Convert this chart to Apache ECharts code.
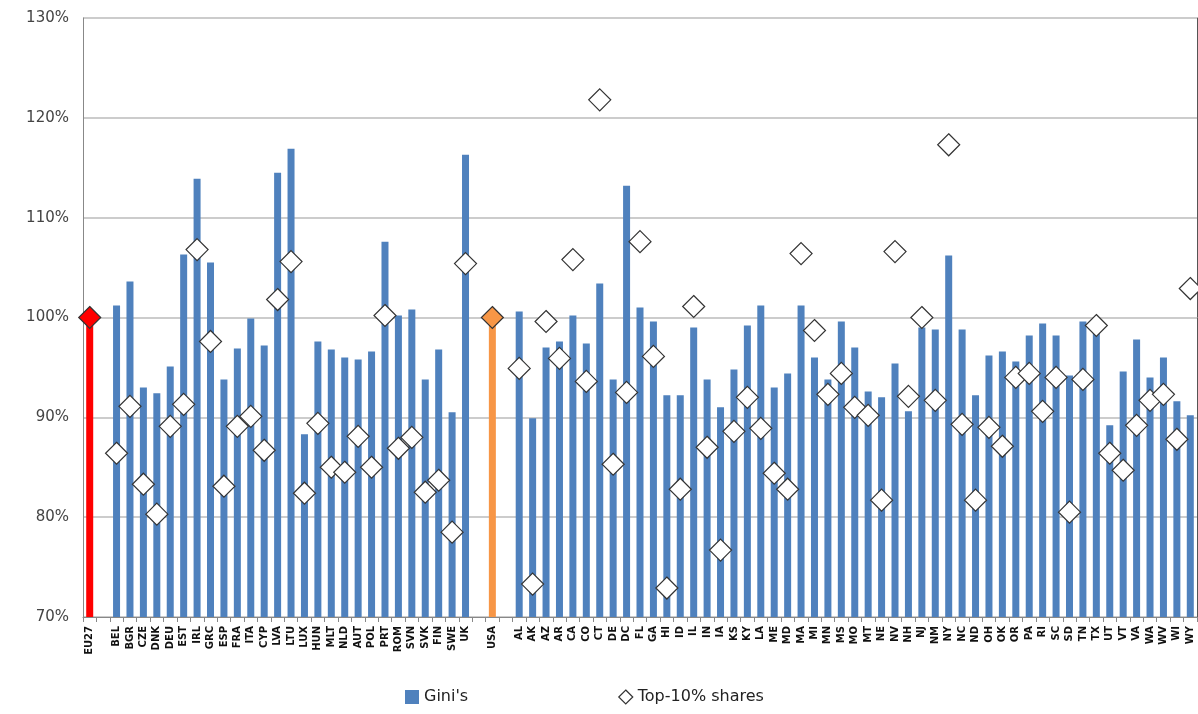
<!DOCTYPE html>
<html>
<head>
<meta charset="utf-8">
<script src="https://cdn.jsdelivr.net/npm/echarts@6/dist/echarts.min.js"></script>
<style>
  html, body { margin: 0; padding: 0; background: #fff; }
  #chart { width: 1198px; height: 714px; }
</style>
</head>
<body>
<div id="chart"></div>
<script>
// categories (blank slots are gaps between groups)
const categories = ['EU27', '',
  'BEL', 'BGR', 'CZE', 'DNK', 'DEU', 'EST', 'IRL', 'GRC', 'ESP', 'FRA', 'ITA', 'CYP', 'LVA', 'LTU',
  'LUX', 'HUN', 'MLT', 'NLD', 'AUT', 'POL', 'PRT', 'ROM', 'SVN', 'SVK', 'FIN', 'SWE', 'UK', '',
  'USA', '',
  'AL', 'AK', 'AZ', 'AR', 'CA', 'CO', 'CT', 'DE', 'DC', 'FL', 'GA', 'HI', 'ID', 'IL', 'IN', 'IA', 'KS',
  'KY', 'LA', 'ME', 'MD', 'MA', 'MI', 'MN', 'MS', 'MO', 'MT', 'NE', 'NV', 'NH', 'NJ', 'NM', 'NY', 'NC',
  'ND', 'OH', 'OK', 'OR', 'PA', 'RI', 'SC', 'SD', 'TN', 'TX', 'UT', 'VT', 'VA', 'WA', 'WV', 'WI', 'WY']

// Gini's (index, % of reference)
const gini = [100, null,
  101.2, 103.6, 93.0, 92.4, 95.1, 106.3, 113.9, 105.5, 93.8, 96.9, 99.9, 97.2, 114.5, 116.9,
  88.3, 97.6, 96.8, 96.0, 95.8, 96.6, 107.6, 100.2, 100.8, 93.8, 96.8, 90.5, 116.3, null,
  100, null,
  100.6, 89.9, 97.0, 97.6, 100.2, 97.4, 103.4, 93.8, 113.2, 101.0, 99.6, 92.2, 92.2, 99.0, 93.8, 91.0, 94.8,
  99.2, 101.2, 93.0, 94.4, 101.2, 96.0, 93.8, 99.6, 97.0, 92.6, 92.0, 95.4, 90.6, 99.0, 98.8, 106.2, 98.8,
  92.2, 96.2, 96.6, 95.6, 98.2, 99.4, 98.2, 94.2, 99.6, 99.1, 89.2, 94.6, 97.8, 94.0, 96.0, 91.6, 90.2]

// Top-10% shares
const top10 = [100, null,
  86.4, 91.1, 83.3, 80.3, 89.1, 91.3, 106.8, 97.6, 83.1, 89.1, 90.1, 86.7, 101.8, 105.6,
  82.4, 89.4, 85.0, 84.5, 88.1, 85.0, 100.2, 86.9, 88.0, 82.5, 83.7, 78.5, 105.4, null,
  100, null,
  94.9, 73.3, 99.6, 95.9, 105.8, 93.6, 121.8, 85.3, 92.5, 107.6, 96.1, 72.9, 82.8, 101.1, 87.0, 76.7, 88.6,
  92.0, 88.9, 84.4, 82.8, 106.4, 98.7, 92.3, 94.4, 91.0, 90.2, 81.7, 106.6, 92.1, 100.0, 91.7, 117.3, 89.3,
  81.7, 89.0, 87.1, 94.0, 94.4, 90.6, 94.0, 80.5, 93.8, 99.2, 86.4, 84.7, 89.2, 91.7, 92.3, 87.8, 102.9]

// 特殊颜色: EU27 红, USA 橙
const special = { EU27: '#ff0000', USA: '#f79646' }

const myChart = echarts.init(document.querySelector('#chart'))
const option = {
  animation: false,
  textStyle: { fontFamily: 'DejaVu Sans' },
  grid: { left: 83, right: 1, top: 18, bottom: 97 },
  legend: {
    bottom: 4,
    left: 400,
    itemGap: 150,
    itemWidth: 14,
    itemHeight: 14,
    textStyle: { fontSize: 16, color: '#222' },
    data: [
      { name: "Gini's", icon: 'rect', itemStyle: { color: '#4f81bd' } },
      { name: 'Top-10% shares', icon: 'diamond', itemStyle: { color: '#fff', borderColor: '#333', borderWidth: 1.2 } }
    ]
  },
  xAxis: {
    type: 'category',
    data: categories,
    axisLine: { lineStyle: { color: '#888' } },
    axisTick: { show: true, length: 5, interval: 0, lineStyle: { color: '#888' } },
    axisLabel: { interval: 0, rotate: 90, fontSize: 10, fontWeight: 'bold', color: '#111', margin: 9 }
  },
  yAxis: [
    {
      type: 'value',
      min: 70,
      max: 130,
      interval: 10,
      axisLine: { show: true, lineStyle: { color: '#888' } },
      axisTick: { show: false },
      splitLine: { lineStyle: { color: '#bbb', width: 1.5 } },
      axisLabel: { formatter: '{value}%', fontSize: 15, color: '#444', margin: 14 }
    },
    {
      // 右侧边框线
      type: 'value',
      position: 'right',
      min: 70,
      max: 130,
      axisLine: { show: true, lineStyle: { color: '#555' } },
      axisTick: { show: false },
      axisLabel: { show: false },
      splitLine: { show: false }
    }
  ],
  series: [
    {
      name: "Gini's",
      type: 'bar',
      barWidth: 7,
      itemStyle: { color: '#4f81bd' },
      data: gini.map((v, i) => special[categories[i]]
        ? { value: v, itemStyle: { color: special[categories[i]] } }
        : v)
    },
    {
      name: 'Top-10% shares',
      type: 'scatter',
      symbol: 'diamond',
      symbolSize: [22, 22],
      itemStyle: { color: '#fff', borderColor: '#333', borderWidth: 1.2, opacity: 1 },
      z: 3,
      data: top10.map((v, i) => special[categories[i]]
        ? { value: v, itemStyle: { color: special[categories[i]], borderColor: '#333' } }
        : v)
    }
  ]
}
myChart.setOption(option)
</script>
</body>
</html>
